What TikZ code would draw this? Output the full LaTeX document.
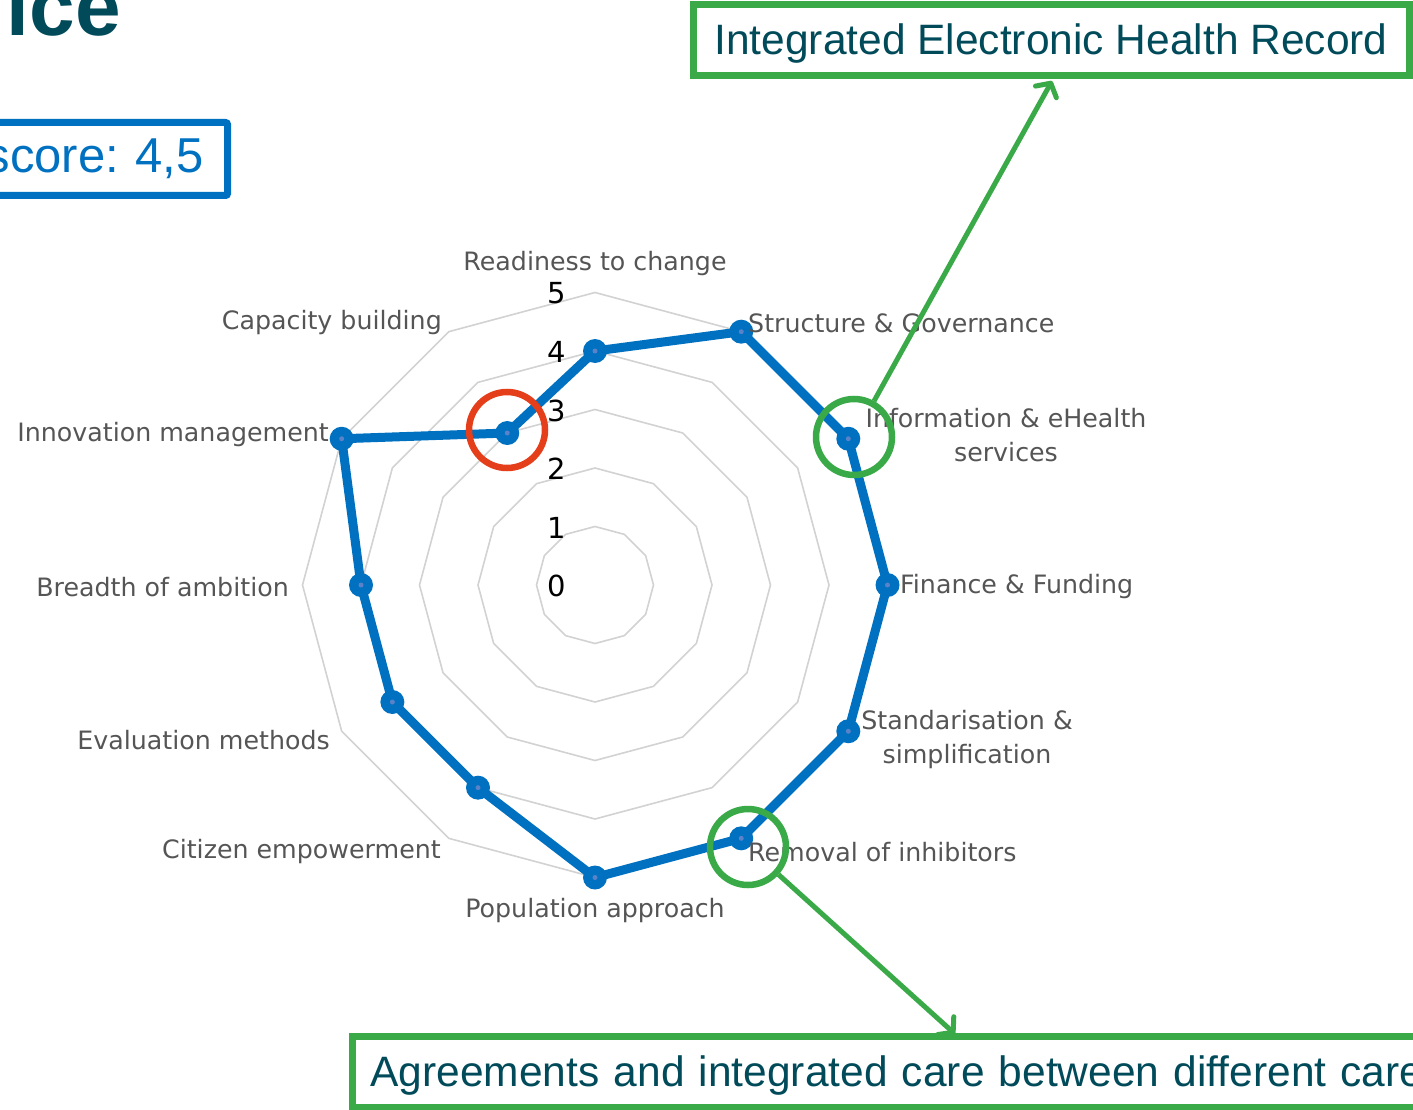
\documentclass[tikz,border=0pt]{standalone}
\usepackage{fontspec}
\setmainfont{Liberation Sans}
\newfontfamily\chartfont{DejaVu Sans}
\usetikzlibrary{arrows.meta}
\definecolor{chartblue}{RGB}{0,112,192}
\definecolor{dotblue}{RGB}{90,130,200}
\definecolor{ringgray}{RGB}{210,210,210}
\definecolor{labelgray}{RGB}{85,85,85}
\definecolor{hlgreen}{RGB}{58,170,72}
\definecolor{hlred}{RGB}{228,62,26}
\definecolor{titleteal}{RGB}{0,74,90}
\begin{document}
\frenchspacing
\begin{tikzpicture}[x=1pt,y=-1pt,
  ring/.style={draw=ringgray,line width=1.6pt},
  series/.style={draw=chartblue,line width=9pt,line join=round},
  marker/.style={circle,fill=chartblue,minimum size=24pt,inner sep=0pt},
  catlabel/.style={font=\chartfont\fontsize{25.3}{34}\selectfont,text=labelgray,inner sep=0pt},
  numlabel/.style={font=\chartfont\fontsize{29}{32}\selectfont,text=black,inner sep=0pt},
  hlcircle/.style={circle,draw=#1,line width=6.5pt,minimum size=76pt,inner sep=0pt},
  callout/.style={draw=hlgreen,line width=5pt,-{Straight Barb[length=10pt,width=24pt,round]}},
  greenbox/.style={draw=hlgreen,line width=7pt,text=titleteal,font=\fontsize{42.5}{50}\selectfont,
    text height=30pt,text depth=2pt}
]
\useasboundingbox (0,0) rectangle (1413,1110);
\clip (0,0) rectangle (1413,1110);

% title fragment and score box
\node[anchor=base east,inner sep=0pt,text=titleteal,font=\bfseries\fontsize{82}{90}\selectfont] (title) at (121,36) {ice};
\node[draw=chartblue,line width=7pt,rounded corners=2pt,anchor=north east,minimum height=73pt,
      text width=240pt,inner xsep=24pt,inner ysep=0pt,align=right,text=chartblue,
      font=\fontsize{49}{55}\selectfont] (score) at (231,119) {score: 4,5};

% radar chart
\begin{scope}[shift={(595,585)}]
  \foreach \k in {1,...,5}
    \draw[ring] (0:{\k*58.5}) \foreach \a in {30,60,...,330} { -- ({\a}:{\k*58.5}) } -- cycle;
  \foreach \k in {0,...,5}
    \node[numlabel] (n\k) at (-38,{1-\k*58.5}) {\k};
  \foreach \v [count=\i from 0] in {4,5,5,5,5,5,5,4,4,4,5,3}
    \coordinate (p\i) at ({30*\i-90}:{\v*58.5});
  \draw[series] (p0) -- (p1) -- (p2) -- (p3) -- (p4) -- (p5) -- (p6) -- (p7) -- (p8) -- (p9) -- (p10) -- (p11) -- cycle;
  \foreach \i in {0,...,11} {
    \node[marker] (m\i) at (p\i) {};
    \fill[dotblue] (p\i) circle (2.5);
  }
\end{scope}

% category labels
\node[catlabel] (l0) at (595,264) {Readiness to change};
\node[catlabel,anchor=west] (l1) at (748,323) {Structure \& Governance};
\node[catlabel,align=center] (l2) at (1006,435) {Information \& eHealth\\services};
\node[catlabel,anchor=west] (l3) at (900,587) {Finance \& Funding};
\node[catlabel,align=center] (l4) at (967,740) {Standarisation \&\\simplification};
\node[catlabel,anchor=west] (l5) at (748,852) {Removal of inhibitors};
\node[catlabel] (l6) at (595,911) {Population approach};
\node[catlabel,anchor=east] (l7) at (441,852) {Citizen empowerment};
\node[catlabel,anchor=east] (l8) at (330,740) {Evaluation methods};
\node[catlabel,anchor=east] (l9) at (289,587) {Breadth of ambition};
\node[catlabel,anchor=east] (l10) at (329,435) {Innovation management};
\node[catlabel,anchor=east] (l11) at (442,323) {Capacity building};

% highlight circles
\node[hlcircle=hlred] (redc) at (507,430) {};
\node[hlcircle=hlgreen] (g1) at (854,437) {};
\node[hlcircle=hlgreen] (g2) at (748,847) {};

% callout boxes
\node[greenbox,minimum width=716pt,minimum height=71pt,inner sep=0pt] (ehr) at (1051,40.5) {Integrated Electronic Health Record};
\node[greenbox,anchor=north west,minimum height=71pt,text width=1100pt,inner xsep=18pt,inner ysep=0pt,align=left] (agr) at (349,1033) {Agreements and integrated care between different care};
\coordinate (ehrtip) at (1052,81);
\coordinate (agrtip) at (955,1034);
\draw[callout] (g1) -- (ehrtip);
\draw[callout] (g2) -- (agrtip);
\end{tikzpicture}
\end{document}
